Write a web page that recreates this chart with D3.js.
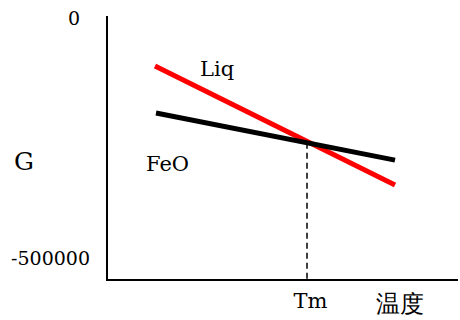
<!DOCTYPE html>
<html><head><meta charset="utf-8">
<script src="https://cdn.jsdelivr.net/npm/d3@7"></script>
<style>
html,body{margin:0;padding:0;background:#fff;}
</style></head>
<body><svg id="c" width="460" height="320"></svg>
<script>
// Data (arbitrary temperature units on x, Gibbs energy on y)
const seriesNames = ["Liq", "FeO"];
const liqT = [48, 288];
const liqG = [-100000, -348000];
const feoT = [49, 288];
const feoG = [-198000, -296000];
const Tm = 200;
const yTickValues = [0, -500000];
const yTickLabels = ["0", "-500000"];
const xTickLabels = ["Tm"];
const xTitle = "温度";
const yTitle = "G";

const FONT = "DejaVu Serif, Liberation Serif, serif";
const svg = d3.select("#c");
const x = d3.scaleLinear().domain([0, 350]).range([107, 457]);
const y = d3.scaleLinear().domain([0, -500000]).range([18, 258]);
const axisTop = 16, axisBottom = 280;

function txt(sel, size) {
  return sel.attr("font-family", FONT).style("font-family", FONT).style("font-size", size + "px").attr("fill", "#000");
}

// axes lines
svg.append("line").attr("x1", x(0)).attr("x2", x(0)).attr("y1", axisTop).attr("y2", axisBottom + 1)
  .attr("stroke", "#000").attr("stroke-width", 2);
svg.append("line").attr("x1", x(0)).attr("x2", x(351)).attr("y1", axisBottom).attr("y2", axisBottom)
  .attr("stroke", "#000").attr("stroke-width", 2);

// y tick labels
const ya = svg.append("g").attr("transform", `translate(${x(0)},0)`)
  .call(d3.axisLeft(y).tickValues(yTickValues).tickSize(0).tickPadding(17)
    .tickFormat((d, i) => yTickLabels[i]));
ya.attr("font-family", FONT);
ya.select(".domain").remove();
txt(ya.selectAll("text"), 19).attr("dx", (d, i) => i === 0 ? -10 : 0).attr("dy", "0.35em");

// x tick label
const xa = svg.append("g").attr("transform", `translate(0,${axisBottom})`)
  .call(d3.axisBottom(x).tickValues([Tm]).tickSize(0).tickPadding(13)
    .tickFormat((d, i) => xTickLabels[i]));
xa.attr("font-family", FONT);
xa.select(".domain").remove();
txt(xa.selectAll("text"), 21).attr("dx", 3);

// titles
txt(svg.append("text"), 24).attr("x", 400).attr("y", 312).attr("text-anchor", "middle").text(xTitle);
txt(svg.append("text"), 25).attr("x", 24).attr("y", 170).attr("text-anchor", "middle").text(yTitle);

// dashed line at Tm
const feoAtTm = d3.scaleLinear().domain(feoT).range(feoG)(Tm);
svg.append("line").attr("x1", x(Tm)).attr("x2", x(Tm)).attr("y1", y(feoAtTm)).attr("y2", axisBottom)
  .attr("stroke", "#000").attr("stroke-width", 1.5).attr("stroke-dasharray", "6,4");

const line = d3.line().x(d => x(d[0])).y(d => y(d[1]));
svg.append("path").datum(liqT.map((t, i) => [t, liqG[i]])).attr("d", line)
  .attr("fill", "none").attr("stroke", "#ff0000").attr("stroke-width", 5);
svg.append("path").datum(feoT.map((t, i) => [t, feoG[i]])).attr("d", line)
  .attr("fill", "none").attr("stroke", "#000").attr("stroke-width", 5);

// series labels
txt(svg.append("text"), 21).attr("x", 200).attr("y", 76).text(seriesNames[0]);
txt(svg.append("text"), 21).attr("x", 146).attr("y", 171).text(seriesNames[1]);
</script></body></html>
